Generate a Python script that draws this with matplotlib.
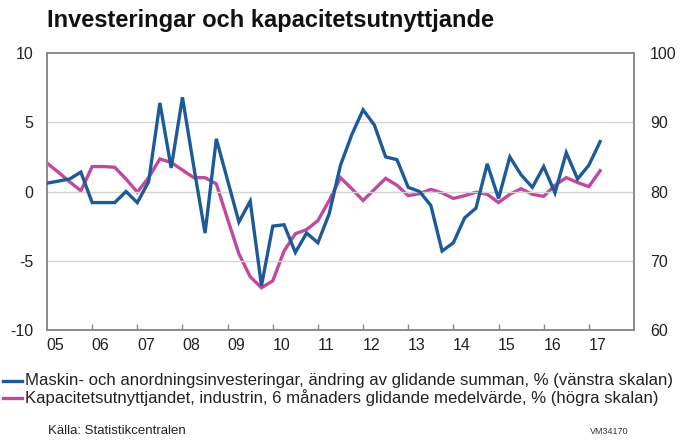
import matplotlib
matplotlib.use("Agg")
import matplotlib.pyplot as plt
import numpy as np

plt.rcParams['font.family'] = ['Liberation Sans', 'DejaVu Sans']

# Quarterly data 2005Q1 .. 2017Q2
quarters = [f"{y}Q{q}" for y in range(2005, 2018) for q in range(1, 5)][:50]
investments = [0.6, 0.75, 0.9, 1.4, -0.8, -0.8, -0.8, 0.0, -0.8, 0.7,
               6.4, 1.7, 6.8, 1.8, -3.0, 3.8, 0.8, -2.2, -0.7, -6.8,
               -2.5, -2.4, -4.4, -3.0, -3.7, -1.6, 1.9, 4.1, 5.9, 4.8,
               2.5, 2.3, 0.3, 0.0, -1.0, -4.3, -3.7, -1.9, -1.2, 2.0,
               -0.5, 2.5, 1.2, 0.3, 1.8, -0.1, 2.8, 0.9, 1.9, 3.6]
capacity = [84.1, 82.8, 81.4, 80.1, 83.6, 83.6, 83.5, 81.8, 79.9, 82.0,
            84.7, 84.2, 83.1, 82.0, 82.0, 81.1, 76.0, 71.0, 67.7, 66.1,
            67.1, 71.4, 73.9, 74.5, 75.8, 78.7, 82.0, 80.4, 78.7, 80.3,
            81.9, 80.9, 79.4, 79.7, 80.3, 79.8, 79.0, 79.4, 79.9, 79.6,
            78.4, 79.6, 80.4, 79.6, 79.3, 80.9, 82.0, 81.3, 80.7, 83.0]
year_labels = ["05", "06", "07", "08", "09", "10", "11", "12", "13", "14", "15", "16", "17"]
left_ticks = [-10, -5, 0, 5, 10]
right_ticks = [60, 70, 80, 90, 100]

x = np.array([int(q[:4]) + (int(q[-1]) - 1) * 0.25 for q in quarters])

fig = plt.figure(figsize=(6.8, 4.41), dpi=100)
ax = fig.add_axes([47/680, 1 - 330/441, (634-47)/680, (330-53)/441])
ax2 = ax.twinx()

blue = '#1d5b98'
pink = '#c2489f'
frame = '#8a8a8a'

ax.plot(x, investments, color=blue, lw=2.4, zorder=3, solid_joinstyle='miter')
ax2.plot(x, capacity, color=pink, lw=2.4, zorder=2, solid_joinstyle='miter')
ax.set_zorder(ax2.get_zorder() + 1)
ax.patch.set_visible(False)

ax.set_xlim(2005, 2018)
ax.set_ylim(-10, 10)
ax2.set_ylim(60, 100)
ax.set_yticks(left_ticks)
ax2.set_yticks(right_ticks)
ax.set_yticklabels([str(v) for v in left_ticks])
ax2.set_yticklabels([str(v) for v in right_ticks])

for v in left_ticks[1:-1]:
    ax.axhline(v, color='#d4d4d4', lw=1, zorder=0)

years = np.arange(2005, 2018)
ax.set_xticks(years[1:])
ax.set_xticklabels([])
ax.set_xticks(years + 0.19, minor=True)
ax.set_xticklabels(year_labels, minor=True)
ax.tick_params(axis='x', which='major', direction='in', length=4, color=frame, width=1)
ax.tick_params(axis='x', which='minor', length=0, labelsize=11.5, pad=6, labelcolor='#222222')
ax.tick_params(axis='y', length=0, labelsize=11.5, pad=10, labelcolor='#222222')
ax2.tick_params(axis='y', length=0, labelsize=11.5, pad=11.5, labelcolor='#222222')

for a in (ax, ax2):
    for s in a.spines.values():
        s.set_color(frame)
        s.set_linewidth(1.2)

fig.text(47/680, 1 - 20/441, "Investeringar och kapacitetsutnyttjande",
         fontsize=17, fontweight='bold', va='center', ha='left', color='#111111')

# legend
fig.lines.append(plt.Line2D([3/680, 22/680], [1 - 381/441, 1 - 381/441],
                            color=blue, lw=2.4, transform=fig.transFigure))
fig.lines.append(plt.Line2D([3/680, 22/680], [1 - 398/441, 1 - 398/441],
                            color=pink, lw=2.4, transform=fig.transFigure))
fig.text(25/680, 1 - 381/441,
         "Maskin- och anordningsinvesteringar, ändring av glidande summan, % (vänstra skalan)",
         fontsize=12.1, va='center', ha='left', color='#222222')
fig.text(25/680, 1 - 398/441,
         "Kapacitetsutnyttjandet, industrin, 6 månaders glidande medelvärde, % (högra skalan)",
         fontsize=12.1, va='center', ha='left', color='#222222')
fig.text(48/680, 1 - 431/441, "Källa: Statistikcentralen", fontsize=9.5,
         va='center', ha='left', color='#222222')
fig.text(590/680, 1 - 432/441, "VM34170", fontsize=6.5, va='center', ha='left', color='#333333')

fig.savefig("out.png", dpi=100)
